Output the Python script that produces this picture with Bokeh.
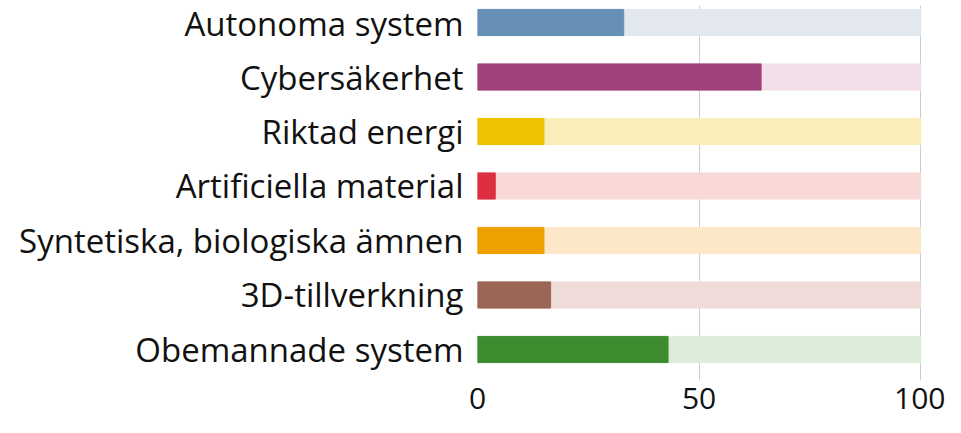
from bokeh.plotting import figure
from bokeh.models import Range1d, FixedTicker, ColumnDataSource
from bokeh.embed import file_html
from bokeh.resources import INLINE

categories = ["Autonoma system", "Cybersäkerhet", "Riktad energi", "Artificiella material",
              "Syntetiska, biologiska ämnen", "3D-tillverkning", "Obemannade system"]
values = [33, 64, 15, 4, 15, 16.5, 43]
totals = [100, 100, 100, 100, 100, 100, 100]
colors = ["#6690b5", "#a0427c", "#eec200", "#dc3040", "#eea000", "#9c6656", "#3d8c30"]
bg_colors = ["#e2e8ed", "#f3dfea", "#f9eeb9", "#f9d8d8", "#fce7c8", "#efdcd8", "#dcecd8"]
x_ticks = [0, 50, 100]

n = len(categories)
ypos = [n - 1 - i for i in range(n)]

src = ColumnDataSource(dict(y=ypos, v=values, t=totals, c=colors, bg=bg_colors))

p = figure(width=945, height=425, output_backend="svg", toolbar_location=None,
           x_range=Range1d(0, 103.8), y_range=Range1d(-0.569, n - 1 + 0.312),
           min_border_left=477, min_border_right=8, min_border_top=5, min_border_bottom=45)

p.hbar(y="y", left=0, right="t", height=0.48, color="bg", source=src)
p.hbar(y="y", left=0, right="v", height=0.48, color="c", source=src)

p.outline_line_color = None
p.xgrid.ticker = FixedTicker(ticks=x_ticks)
p.xgrid.grid_line_color = "#c8ccd4"
p.xgrid.grid_line_width = 1
p.ygrid.grid_line_color = None

p.xaxis.ticker = FixedTicker(ticks=x_ticks)
p.xaxis.axis_line_color = None
p.xaxis.major_tick_line_color = None
p.xaxis.minor_tick_line_color = None
p.xaxis.major_tick_out = 0
p.xaxis.major_label_standoff = 7
p.xaxis.major_label_text_font = "Open Sans"
p.xaxis.major_label_text_font_size = "30px"
p.xaxis.major_label_text_color = "#111111"

p.yaxis.ticker = FixedTicker(ticks=ypos)
p.yaxis.major_label_overrides = {ypos[i]: categories[i] for i in range(n)}
p.yaxis.axis_line_color = None
p.yaxis.major_tick_line_color = None
p.yaxis.minor_tick_line_color = None
p.yaxis.major_tick_out = 0
p.yaxis.major_label_standoff = 14
p.yaxis.major_label_text_font = "Open Sans"
p.yaxis.major_label_text_font_size = "33px"
p.yaxis.major_label_text_color = "#111111"

p.background_fill_color = "white"
p.border_fill_color = "white"

open("out.html", "w").write(file_html(p, INLINE))
